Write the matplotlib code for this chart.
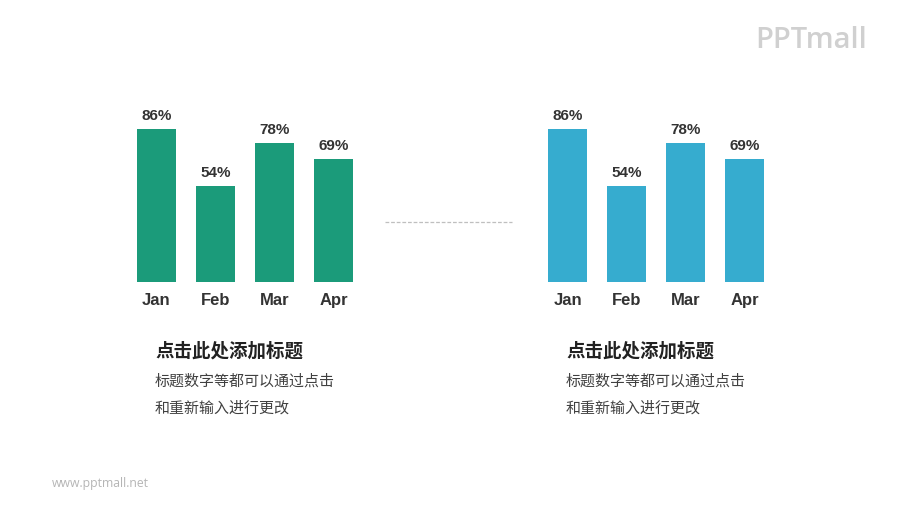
import matplotlib
matplotlib.use("Agg")
import matplotlib.pyplot as plt
from matplotlib.lines import Line2D

categories = ["Jan", "Feb", "Mar", "Apr"]
left_values = [86, 54, 78, 69]
right_values = [86, 54, 78, 69]
value_labels = ["86%", "54%", "78%", "69%"]
title_text = "点击此处添加标题"
body_lines = ["标题数字等都可以通过点击", "和重新输入进行更改"]
logo_text = "PPTmall"
footer_text = "www.pptmall.net"

GREEN = "#1b9b7a"
BLUE = "#36accf"
DARK = "#333333"

W, H = 900, 506
fig = plt.figure(figsize=(W / 100, H / 100), dpi=100)
fig.patch.set_facecolor("white")

cjk = ["Noto Sans CJK SC", "DejaVu Sans"]
latin = ["Liberation Sans", "DejaVu Sans"]


def px_axes(x0, x1, ybot, height):
    return fig.add_axes([x0 / W, (H - ybot) / H, (x1 - x0) / W, height / H])


def draw_chart(x0, values, color):
    ax = px_axes(x0, x0 + 236, 283, 178)
    ax.bar(range(len(categories)), values, width=0.66, color=color)
    ax.set_xlim(-0.5, len(categories) - 0.5)
    ax.set_ylim(0, 100)
    for i, (v, lab) in enumerate(zip(values, value_labels)):
        ax.annotate(lab, (i, v), xytext=(0, 5), textcoords="offset points",
                    ha="center", va="bottom", fontsize=11, fontweight="bold",
                    color=DARK, family=latin, annotation_clip=False)
    ax.set_xticks(range(len(categories)))
    ax.set_xticklabels(categories, fontsize=12, fontweight="bold",
                       color=DARK, family=latin)
    ax.tick_params(axis="x", length=0, pad=7)
    ax.set_yticks([])
    for s in ax.spines.values():
        s.set_visible(False)
    ax.patch.set_alpha(0)
    return ax


draw_chart(127, left_values, GREEN)
draw_chart(538, right_values, BLUE)


def fig_text(x, y, s, **kw):
    fig.text(x / W, (H - y) / H, s, **kw)


for tx in (155, 566):
    fig_text(tx, 351, title_text, fontsize=13.3, fontweight="bold", color="#222222",
             family=cjk, va="center", ha="left")
    fig_text(tx, 381, body_lines[0], fontsize=10.8, color="#404040",
             family=cjk, va="center", ha="left")
    fig_text(tx, 408, body_lines[1], fontsize=10.8, color="#404040",
             family=cjk, va="center", ha="left")

# dashed connector
fig.add_artist(Line2D([385 / W, 512 / W], [(H - 223) / H, (H - 223) / H],
                      color="#bfbfbf", lw=0.9, ls=(0, (3, 1.5))))

fig_text(811, 40, logo_text, fontsize=21, fontweight="semibold", color="#d0d0d0",
         family=["Open Sans", "DejaVu Sans"], ha="center", va="center")
fig_text(52, 484, footer_text, fontsize=8.8, color="#b5b5b5", family=["Open Sans", "DejaVu Sans"],
         ha="left", va="center")

fig.savefig("out.png", dpi=100, facecolor="white")
